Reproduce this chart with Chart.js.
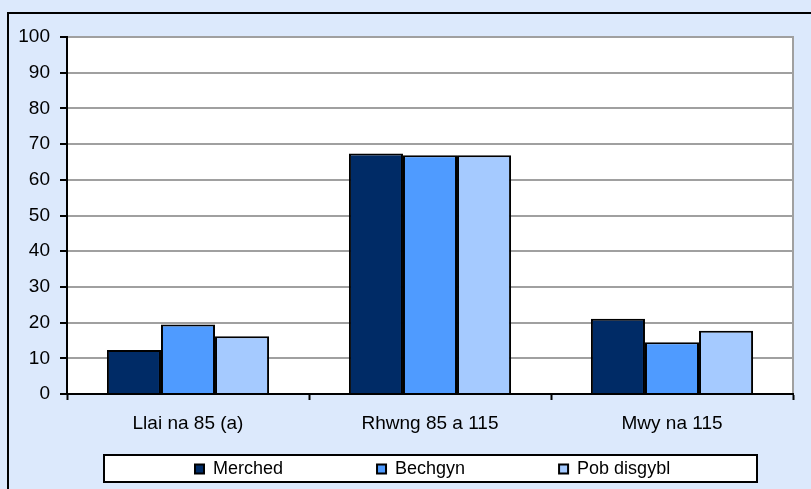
<!DOCTYPE html>
<html>
<head>
<meta charset="utf-8">
<script src="https://cdn.jsdelivr.net/npm/chart.js"></script>
<style>
  html, body { margin: 0; padding: 0; background: #dce9fc; }
  #wrap { width: 811px; height: 489px; position: relative; }
</style>
</head>
<body>
<div id="wrap"><canvas id="myChart" width="811" height="489"></canvas></div>
<script>
let categories = ["Llai na 85 (a)", "Rhwng 85 a 115", "Mwy na 115"];
let seriesNames = ["Merched", "Bechgyn", "Pob disgybl"];
let merched = [12.3, 67.4, 21.1];
let bechgyn = [19.5, 66.9, 14.5];
let pobDisgybl = [16.2, 66.9, 17.7];
let yTicks = [0, 10, 20, 30, 40, 50, 60, 70, 80, 90, 100];

let barColors = ["#002b66", "#4f9bff", "#a5caff"];
let fontFamily = "'Liberation Sans', Arial, sans-serif";

// background, outer frame, white plot area and the legend box
const framePlugin = {
    id: "frame",
    beforeDraw(chart) {
        const ctx = chart.ctx;
        const a = chart.chartArea;
        ctx.save();
        ctx.fillStyle = "#dce9fc";
        ctx.fillRect(0, 0, chart.width, chart.height);
        ctx.strokeStyle = "#000";
        ctx.lineWidth = 2;
        ctx.beginPath();
        ctx.moveTo(8, chart.height);
        ctx.lineTo(8, 13);
        ctx.lineTo(chart.width, 13);
        ctx.stroke();

        ctx.fillStyle = "#fff";
        ctx.fillRect(a.left, a.top, a.right - a.left, a.bottom - a.top);
        ctx.strokeStyle = "#a0a0a0";
        ctx.strokeRect(a.left, a.top, a.right - a.left, a.bottom - a.top);

        // legend frame
        ctx.fillStyle = "#fff";
        ctx.fillRect(104, 455, 653, 27);
        ctx.strokeStyle = "#000";
        ctx.strokeRect(104, 455, 653, 27);
        ctx.restore();
    },
    afterLayout(chart) {
        // move legend row into its frame
        const lg = chart.legend;
        const pad = lg.options.labels.padding;
        lg.top = 469 - pad - 9;
        lg.left = 195 - pad;
        lg.right = 811;
    }
};

new Chart("myChart", {
    type: "bar",
    data: {
        labels: categories,
        datasets: [
            { label: seriesNames[0], data: merched, backgroundColor: barColors[0] },
            { label: seriesNames[1], data: bechgyn, backgroundColor: barColors[1] },
            { label: seriesNames[2], data: pobDisgybl, backgroundColor: barColors[2] }
        ].map(d => Object.assign(d, {
            borderColor: "#000",
            borderWidth: 2,
            categoryPercentage: 0.67,
            barPercentage: 1
        }))
    },
    options: {
        responsive: false,
        animation: false,
        layout: { padding: { top: 37, left: 0, right: 18, bottom: 0 } },
        plugins: {
            tooltip: { enabled: false },
            legend: {
                position: "bottom",
                align: "start",
                maxHeight: 40,
                labels: {
                    color: "#000",
                    font: { family: fontFamily, size: 18 },
                    boxWidth: 9,
                    boxHeight: 9,
                    padding: 94
                }
            }
        },
        scales: {
            x: {
                grid: {
                    display: true,
                    drawOnChartArea: false,
                    tickLength: 6,
                    tickColor: "#000",
                    tickWidth: 2
                },
                border: { color: "#000", width: 2 },
                ticks: {
                    color: "#000",
                    padding: 12,
                    font: { family: fontFamily, size: 19 }
                },
                afterFit(scale) { scale.height = 55; }
            },
            y: {
                min: 0,
                max: 100,
                afterBuildTicks(scale) { scale.ticks = yTicks.map(v => ({ value: v })); },
                grid: {
                    color: "#a0a0a0",
                    lineWidth: 2,
                    tickLength: 7,
                    tickColor: "#000",
                    tickWidth: 2
                },
                border: { color: "#000", width: 2 },
                ticks: {
                    color: "#000",
                    padding: 10,
                    font: { family: fontFamily, size: 19 }
                },
                afterFit(scale) { scale.width = 67; }
            }
        }
    },
    plugins: [framePlugin]
});
</script>
</body>
</html>
